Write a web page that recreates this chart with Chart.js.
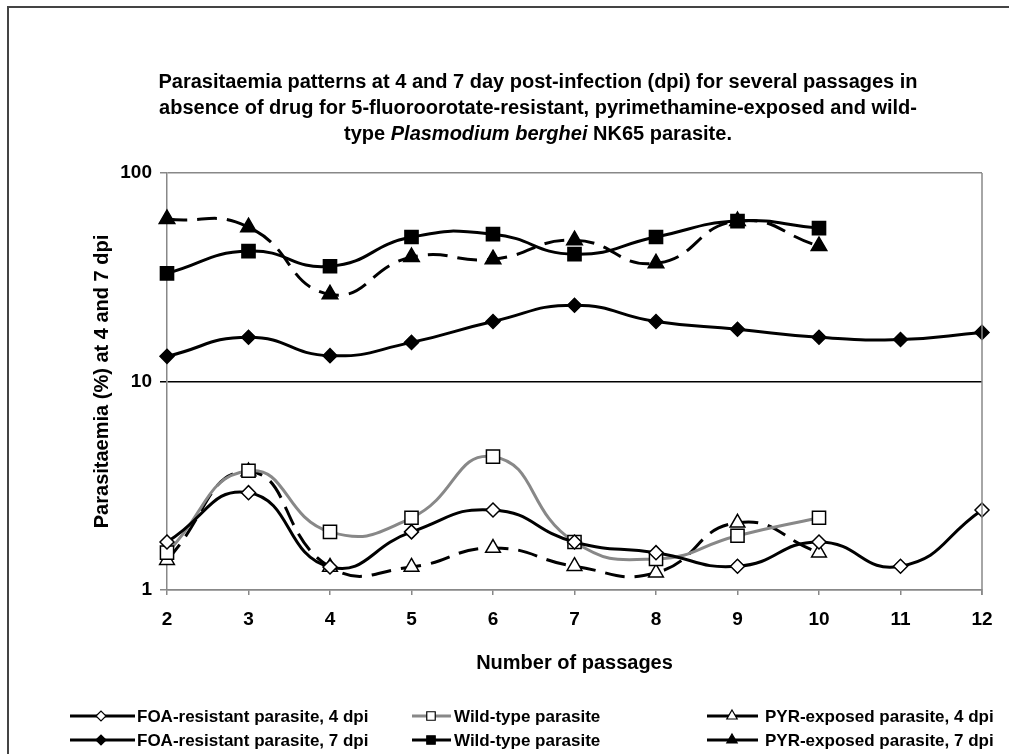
<!DOCTYPE html>
<html><head><meta charset="utf-8">
<script src="https://cdn.jsdelivr.net/npm/chart.js@4/dist/chart.umd.min.js"></script>
<style>html,body{margin:0;padding:0;background:#fff}#wrap{position:relative;width:1009px;height:754px}canvas{display:block}</style>
</head><body><div id="wrap"><canvas id="c" width="1009" height="754"></canvas></div>
<script>
const passages = ['2','3','4','5','6','7','8','9','10','11','12'];
const foa4 = [1.70, 2.93, 1.29, 1.90, 2.42, 1.70, 1.51, 1.30, 1.70, 1.30, 2.42];
const wt4  = [1.51, 3.73, 1.90, 2.22, 4.36, 1.70, 1.41, 1.82, 2.22, null, null];
const pyr4 = [1.39, 3.70, 1.29, 1.29, 1.59, 1.30, 1.21, 2.10, 1.51, null, null];
const foa7 = [13.2, 16.3, 13.3, 15.4, 19.4, 23.2, 19.4, 17.8, 16.3, 15.9, 17.2];
const wt7  = [33.0, 42.2, 35.7, 49.3, 50.9, 40.8, 49.3, 58.8, 54.4, null, null];
const pyr7 = [60.1, 55.0, 26.2, 39.5, 38.6, 47.6, 36.9, 58.8, 44.6, null, null];
const yTicks = [1, 10, 100];
const seriesNames = ['FOA-resistant parasite, 4 dpi','Wild-type parasite','PYR-exposed parasite, 4 dpi',
                     'FOA-resistant parasite, 7 dpi','Wild-type parasite','PYR-exposed parasite, 7 dpi'];
const titleLines = ['Parasitaemia patterns at 4 and 7 day post-infection (dpi) for several passages in',
                    'absence of drug for 5-fluoroorotate-resistant, pyrimethamine-exposed and wild-'];
const titleLine3 = [['type ', false], ['Plasmodium berghei', true], [' NK65 parasite.', false]];
const xTitle = 'Number of passages';
const yTitle = 'Parasitaemia (%) at 4 and 7 dpi';

const FONT = '"Liberation Sans", Arial, sans-serif';
const DASH = [20, 10];

function ds(label, data, o) {
  return Object.assign({
    label, data, spanGaps: false, tension: 0.5, fill: false,
    borderColor: '#000', borderWidth: 3, pointBorderColor: '#000', pointBorderWidth: 1.5,
    pointHoverRadius: 0
  }, o);
}
const datasets = [
  ds(seriesNames[0], foa4, {pointStyle: 'rectRot', pointRadius: 7, pointBackgroundColor: '#fff'}),
  ds(seriesNames[1], wt4,  {pointStyle: 'rect', pointRadius: 9.3, pointBackgroundColor: '#fff', borderColor: '#888'}),
  ds(seriesNames[2], pyr4, {pointStyle: 'triangle', pointRadius: 8.5, pointBackgroundColor: '#fff', borderDash: DASH}),
  ds(seriesNames[3], foa7, {pointStyle: 'rectRot', pointRadius: 7, pointBackgroundColor: '#000'}),
  ds(seriesNames[4], wt7,  {pointStyle: 'rect', pointRadius: 9.3, pointBackgroundColor: '#000'}),
  ds(seriesNames[5], pyr7, {pointStyle: 'triangle', pointRadius: 9, pointBackgroundColor: '#000', borderDash: DASH})
];

const decor = {
  id: 'decor',
  beforeDraw(chart) {
    const c = chart.ctx;
    c.save();
    c.fillStyle = '#fff'; c.fillRect(0, 0, chart.width, chart.height);
    c.strokeStyle = '#444'; c.lineWidth = 2;
    c.beginPath(); c.moveTo(8, 760); c.lineTo(8, 7); c.lineTo(1012, 7); c.stroke();
    c.restore();
  },
  afterDraw(chart) {
    const c = chart.ctx, a = chart.chartArea;
    c.save();
    // right plot border
    c.strokeStyle = '#888'; c.lineWidth = 1.5;
    c.beginPath(); c.moveTo(a.right, a.top); c.lineTo(a.right, a.bottom + 5); c.stroke();
    // title
    c.fillStyle = '#000'; c.textBaseline = 'alphabetic'; c.textAlign = 'center';
    const cx = 538;
    const tf = 'bold 20px ' + FONT;
    c.font = tf;
    c.fillText(titleLines[0], cx, 88);
    c.fillText(titleLines[1], cx, 114);
    let total = 0;
    titleLine3.forEach(([t, it]) => { c.font = (it ? 'italic ' : '') + tf; total += c.measureText(t).width; });
    let x = cx - total / 2; c.textAlign = 'left';
    titleLine3.forEach(([t, it]) => { c.font = (it ? 'italic ' : '') + tf; c.fillText(t, x, 140); x += c.measureText(t).width; });
    // axis titles
    c.textAlign = 'center'; c.textBaseline = 'middle';
    c.font = 'bold 20px ' + FONT;
    c.fillText(xTitle, (a.left + a.right) / 2, 663);
    c.save(); c.translate(102, (a.top + a.bottom) / 2); c.rotate(-Math.PI / 2);
    c.fillText(yTitle, 0, 0); c.restore();
    // legend
    const cols = [{l: 70, r: 135, m: 101, t: 137}, {l: 412, r: 451, m: 431, t: 454}, {l: 707, r: 758, m: 732, t: 765}];
    const rows = [716, 740];
    const order = [[0, 0, 0], [1, 0, 1], [2, 0, 2], [3, 1, 0], [4, 1, 1], [5, 1, 2]];
    order.forEach(([i, r, k]) => {
      const d = chart.data.datasets[i], col = cols[k], y = rows[r];
      c.save();
      c.strokeStyle = d.borderColor; c.lineWidth = 3; c.setLineDash([]);
      c.beginPath(); c.moveTo(col.l, y); c.lineTo(col.r, y); c.stroke();
      c.fillStyle = d.pointBackgroundColor; c.strokeStyle = '#000'; c.lineWidth = 1.2;
      const rad = d.pointStyle === 'rect' ? 6 : (d.pointStyle === 'triangle' ? 6 : 5);
      Chart.helpers.drawPoint(c, {pointStyle: d.pointStyle, radius: rad, rotation: 0, borderWidth: 1.2}, col.m, y);
      c.restore();
      c.fillStyle = '#000'; c.textAlign = 'left'; c.textBaseline = 'middle';
      c.font = 'bold 17px ' + FONT;
      c.fillText(d.label, col.t, y + 1);
    });
    c.restore();
  }
};

new Chart(document.getElementById('c'), {
  type: 'line',
  data: {labels: passages, datasets},
  options: {
    responsive: false, animation: false, devicePixelRatio: 1,
    layout: {padding: {top: 173, right: 27, bottom: 104, left: 0}},
    plugins: {legend: {display: false}, title: {display: false}, tooltip: {enabled: false}},
    events: [],
    scales: {
      x: {
        type: 'category', offset: false,
        grid: {drawOnChartArea: false, drawTicks: true, tickLength: 5, color: '#888', lineWidth: 1.5},
        border: {display: true, color: '#888', width: 1.5},
        ticks: {color: '#000', font: {family: FONT, size: 19, weight: 'bold'}, padding: 13, maxRotation: 0, autoSkip: false},
        afterFit(s) { s.height = 60; }
      },
      y: {
        type: 'logarithmic', min: 1, max: 100,
        afterBuildTicks(s) { s.ticks = yTicks.map(v => ({value: v})); },
        grid: {
          drawTicks: true, tickLength: 7,
          color: ctx => (ctx.tick && ctx.tick.value === 10) ? '#000' : '#888',
          lineWidth: 1.5
        },
        border: {display: true, color: '#888', width: 1.5},
        ticks: {color: '#000', font: {family: FONT, size: 19, weight: 'bold'}, padding: 8,
                callback: v => String(v)},
        afterFit(s) { s.width = 167; }
      }
    }
  },
  plugins: [decor]
});
</script>
</body></html>
